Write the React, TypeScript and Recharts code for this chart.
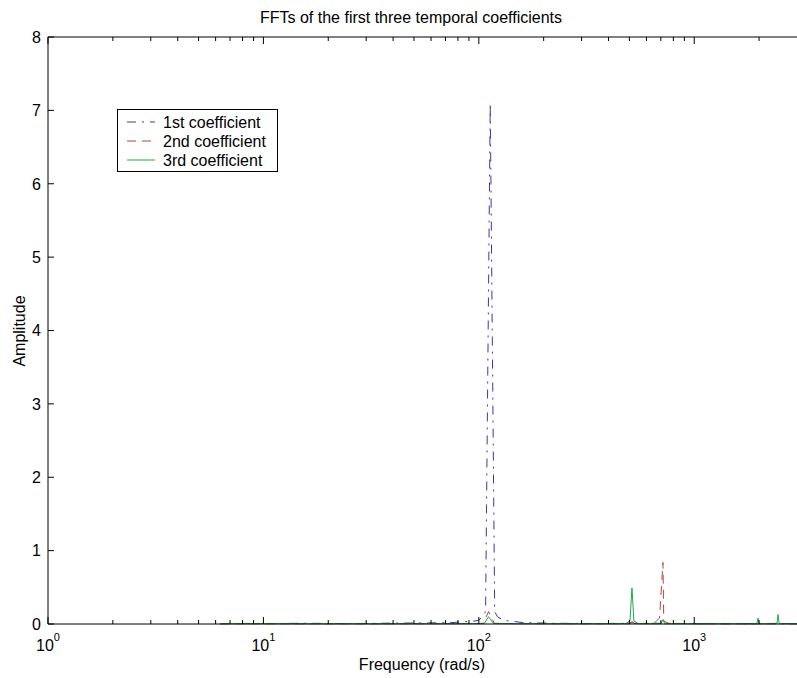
import { LineChart, Line, XAxis, YAxis } from 'recharts';

// frequency (rad/s) / amplitude pairs
const coef1Freq = [6.3, 8, 10, 15, 25, 40, 60, 75, 85, 95, 100, 104, 107.5, 113, 118.5, 122, 130, 160, 220, 350, 500, 515, 530, 700, 1000, 2000, 3000];
const coef1Amp = [0.004, 0.008, 0.005, 0.01, 0.006, 0.012, 0.015, 0.02, 0.03, 0.04, 0.05, 0.1, 0.17, 7.1, 0.17, 0.1, 0.05, 0.02, 0.01, 0.006, 0.01, 0.03, 0.008, 0.01, 0.004, 0.005, 0.002];

const coef2Freq = [6.3, 10, 30, 60, 90, 105, 111, 118, 150, 300, 500, 514, 530, 650, 690, 716, 722, 760, 1000, 2000, 2450, 3000];
const coef2Amp = [0.003, 0.004, 0.003, 0.005, 0.006, 0.01, 0.17, 0.01, 0.006, 0.004, 0.004, 0.02, 0.004, 0.01, 0.08, 0.84, 0.04, 0.01, 0.004, 0.003, 0.01, 0.002];

const coef3Freq = [6.3, 10, 30, 60, 90, 106, 111, 117, 150, 300, 480, 503, 514, 525, 550, 700, 716, 730, 1000, 1950, 1977, 2000, 2420, 2450, 2480, 3000];
const coef3Amp = [0.003, 0.004, 0.003, 0.004, 0.005, 0.006, 0.1, 0.006, 0.004, 0.003, 0.005, 0.04, 0.49, 0.04, 0.005, 0.003, 0.06, 0.003, 0.003, 0.003, 0.08, 0.003, 0.003, 0.13, 0.003, 0.005];

const xTicks = [1, 2, 3, 4, 5, 6, 7, 8, 9, 10, 20, 30, 40, 50, 60, 70, 80, 90, 100, 200, 300, 400, 500, 600, 700, 800, 900, 1000, 2000];
const yTicks = [0, 1, 2, 3, 4, 5, 6, 7, 8];

const series = [
  { name: '1st coefficient', freq: coef1Freq, amp: coef1Amp, color: '#4a32a0', dash: '9 6 2 6' },
  { name: '2nd coefficient', freq: coef2Freq, amp: coef2Amp, color: '#b04a3c', dash: '9 6' },
  { name: '3rd coefficient', freq: coef3Freq, amp: coef3Amp, color: '#22a64a', dash: undefined },
];

const FONT = '"Liberation Sans", Arial, Helvetica, sans-serif';

const isMajor = (v: number) => {
  const e = Math.log10(v);
  return Math.abs(e - Math.round(e)) < 1e-6;
};

const BottomTick = (props: any) => {
  const { x, y, payload } = props;
  const v = payload.value;
  const major = isMajor(v);
  return (
    <g>
      <line x1={x} x2={x} y1={y} y2={y - (major ? 7 : 4)} stroke="#000" />
      {major && (
        <text x={x} y={y + 27} textAnchor="middle" fontSize={16} fontFamily={FONT} fill="#000">
          10<tspan dy={-10} fontSize={11}>{Math.round(Math.log10(v))}</tspan>
        </text>
      )}
    </g>
  );
};

const TopTick = (props: any) => {
  const { x, y, payload } = props;
  const major = isMajor(payload.value);
  return <line x1={x} x2={x} y1={y} y2={y + (major ? 7 : 4)} stroke="#000" />;
};

const LeftTick = (props: any) => {
  const { x, y, payload } = props;
  return (
    <g>
      <line x1={x} x2={x + 6} y1={y} y2={y} stroke="#000" />
      <text x={x - 7} y={y} dy="0.36em" textAnchor="end" fontSize={16} fontFamily={FONT} fill="#000">
        {payload.value}
      </text>
    </g>
  );
};

export default function App() {
  return (
    <div style={{ position: 'absolute', left: 0, top: 0, width: 797, height: 678, overflow: 'hidden', background: '#fff' }}>
      <LineChart width={797} height={678} margin={{ top: 7, right: 0, bottom: 0, left: 0 }}>
        <XAxis
          xAxisId="bottom"
          dataKey="x"
          type="number"
          scale="log"
          domain={[1, 3000]}
          allowDataOverflow
          ticks={xTicks}
          interval={0}
          tickSize={0}
          tickMargin={0}
          tickLine={false}
          tick={<BottomTick />}
          axisLine={{ stroke: '#000' }}
          height={54}
        />
        <XAxis
          xAxisId="top"
          orientation="top"
          dataKey="x"
          type="number"
          scale="log"
          domain={[1, 3000]}
          allowDataOverflow
          ticks={xTicks}
          interval={0}
          tickSize={0}
          tickMargin={0}
          tickLine={false}
          tick={<TopTick />}
          axisLine={{ stroke: '#000' }}
          height={30}
        />
        <YAxis
          type="number"
          domain={[0, 8]}
          ticks={yTicks}
          interval={0}
          tickSize={0}
          tickMargin={0}
          tickLine={false}
          tick={<LeftTick />}
          axisLine={{ stroke: '#000' }}
          width={48}
        />
        {series.map((s) => (
          <Line
            key={s.name}
            xAxisId="bottom"
            data={s.freq.map((f, i) => ({ x: f, y: s.amp[i] }))}
            dataKey="y"
            name={s.name}
            stroke={s.color}
            strokeWidth={1}
            strokeDasharray={s.dash}
            dot={false}
            activeDot={false}
            isAnimationActive={false}
          />
        ))}
      </LineChart>
      <svg width={797} height={678} style={{ position: 'absolute', left: 0, top: 0, pointerEvents: 'none' }}>
        <text x={411} y={23} textAnchor="middle" fontSize={16} fontFamily={FONT} fill="#000">
          FFTs of the first three temporal coefficients
        </text>
        <text x={422} y={670} textAnchor="middle" fontSize={16} fontFamily={FONT} fill="#000">
          Frequency (rad/s)
        </text>
        <text x={25} y={331} textAnchor="middle" fontSize={16} fontFamily={FONT} fill="#000" transform="rotate(-90 25 331)">
          Amplitude
        </text>
        {/* legend */}
        <g transform="translate(117,109)">
          <rect x={0.5} y={0.5} width={160} height={62} fill="#fff" stroke="#000" />
          {series.map((s, i) => (
            <g key={s.name}>
              <line x1={10} x2={38} y1={13 + i * 19} y2={13 + i * 19} stroke={s.color} strokeDasharray={s.dash} />
              <text x={46} y={13 + i * 19} dy="0.36em" fontSize={16} fontFamily={FONT} fill="#000">
                {s.name}
              </text>
            </g>
          ))}
        </g>
      </svg>
    </div>
  );
}
